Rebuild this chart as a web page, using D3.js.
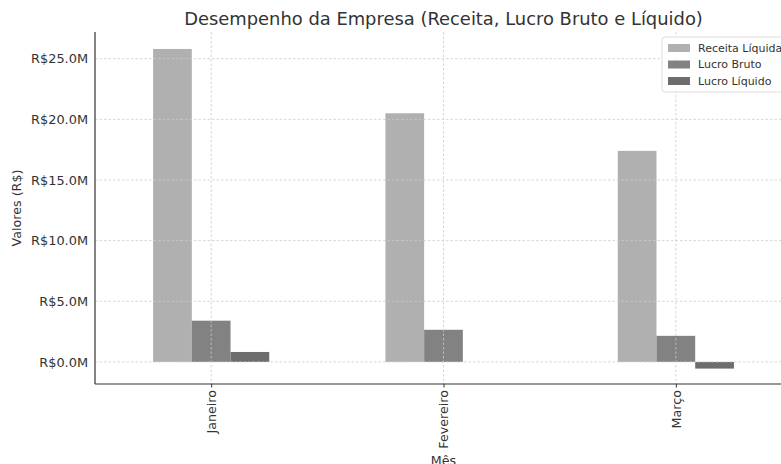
<!DOCTYPE html>
<html lang="pt">
<head>
<meta charset="UTF-8" />
<script src="https://cdnjs.cloudflare.com/ajax/libs/d3/7.8.5/d3.min.js"></script>
<title>Desempenho da Empresa</title>
<style>
body { margin: 0; background: #fff; }
svg { display: block; }
svg text { font-family: "DejaVu Sans", sans-serif; }
</style>
</head>
<body>
<svg id="chart" width="781" height="464"></svg>
<script>

// data, in millions of R$
const months = ['Janeiro', 'Fevereiro', 'Março'];
const seriesNames = ['Receita Líquida', 'Lucro Bruto', 'Lucro Líquido'];
const receita = [25.8, 20.5, 17.4];
const lucroBruto = [3.4, 2.65, 2.15];
const lucroLiquido = [0.82, 0.0, -0.55];
const yTicks = [0, 5, 10, 15, 20, 25];

const colors = ['#b0b0b0', '#828282', '#6d6d6d'];
const series = [receita, lucroBruto, lucroLiquido];

const svg = d3.select('#chart');
const margin = { left: 95, top: 32, right: -11, bottom: 80 };
const W = 781, H = 464;
const font = '"DejaVu Sans", sans-serif';

const x = d3.scaleLinear().domain([-0.5, 2.5]).range([margin.left, W - margin.right]);
const y = d3.scaleLinear().domain([-1.82, 27.2]).range([H - margin.bottom, margin.top]);
const barW = 0.5 / 3;

// bars
series.forEach((vals, s) => {
  svg.append('g').selectAll('rect')
    .data(vals)
    .join('rect')
    .attr('x', (d, i) => x(i - 0.25 + s * barW))
    .attr('width', x(barW) - x(0))
    .attr('y', d => y(Math.max(d, 0)))
    .attr('height', d => Math.abs(y(d) - y(0)))
    .attr('fill', colors[s]);
});

// grid (on top of bars)
const grid = svg.append('g')
  .attr('stroke', '#cccccc')
  .attr('stroke-width', 0.8)
  .attr('stroke-dasharray', '2.5,2');
grid.selectAll('.gy').data(yTicks).join('line')
  .attr('x1', margin.left).attr('x2', W)
  .attr('y1', d => y(d)).attr('y2', d => y(d));
grid.selectAll('.gx').data(months).join('line')
  .attr('x1', (d, i) => x(i)).attr('x2', (d, i) => x(i))
  .attr('y1', margin.top).attr('y2', H - margin.bottom);

// y axis
const yAxis = svg.append('g')
  .attr('transform', `translate(${margin.left},0)`)
  .attr('font-family', font)
  .call(d3.axisLeft(y).tickValues(yTicks).tickSize(0).tickPadding(7)
    .tickFormat(d => 'R$' + d.toFixed(1) + 'M'));
yAxis.select('.domain').remove();
yAxis.selectAll('text').attr('font-size', 12.9).attr('fill', '#333');

// x axis
const xAxis = svg.append('g')
  .attr('transform', `translate(0,${H - margin.bottom})`)
  .attr('font-family', font)
  .call(d3.axisBottom(x).tickValues([0, 1, 2]).tickSize(3.5)
    .tickFormat(i => months[i]));
xAxis.select('.domain').remove();
xAxis.selectAll('line').attr('stroke', '#333');
xAxis.selectAll('text')
  .attr('font-size', 12.7).attr('fill', '#333')
  .attr('transform', 'rotate(-90)')
  .attr('text-anchor', 'end')
  .attr('x', -6).attr('y', 0).attr('dy', '0.35em');

// spines
svg.append('line')
  .attr('x1', margin.left).attr('x2', margin.left)
  .attr('y1', margin.top).attr('y2', H - margin.bottom)
  .attr('stroke', '#333').attr('stroke-width', 1.2);
svg.append('line')
  .attr('x1', margin.left).attr('x2', W)
  .attr('y1', H - margin.bottom).attr('y2', H - margin.bottom)
  .attr('stroke', '#333').attr('stroke-width', 1.2);

// labels
svg.append('text')
  .attr('x', (margin.left + W - margin.right) / 2).attr('y', 25)
  .attr('text-anchor', 'middle').attr('font-size', 17.9).attr('fill', '#333')
  .text('Desempenho da Empresa (Receita, Lucro Bruto e Líquido)');
svg.append('text')
  .attr('transform', `translate(21,${(margin.top + H - margin.bottom) / 2}) rotate(-90)`)
  .attr('text-anchor', 'middle').attr('font-size', 12.7).attr('fill', '#333')
  .text('Valores (R$)');
svg.append('text')
  .attr('x', x(1)).attr('y', 465)
  .attr('text-anchor', 'middle').attr('font-size', 12.7).attr('fill', '#333')
  .text('Mês');

// legend
const lg = svg.append('g').attr('transform', 'translate(662,37)');
lg.append('rect')
  .attr('width', 140).attr('height', 55).attr('rx', 3)
  .attr('fill', '#fff').attr('fill-opacity', 0.85)
  .attr('stroke', '#ddd');
seriesNames.forEach((name, s) => {
  const row = lg.append('g').attr('transform', `translate(6,${11 + s * 16.5})`);
  row.append('rect').attr('width', 22).attr('height', 8).attr('y', -4).attr('fill', colors[s]);
  row.append('text').attr('x', 30).attr('dy', '0.35em')
    .attr('font-size', 11).attr('fill', '#333').text(name);
});

</script>
</body>
</html>
